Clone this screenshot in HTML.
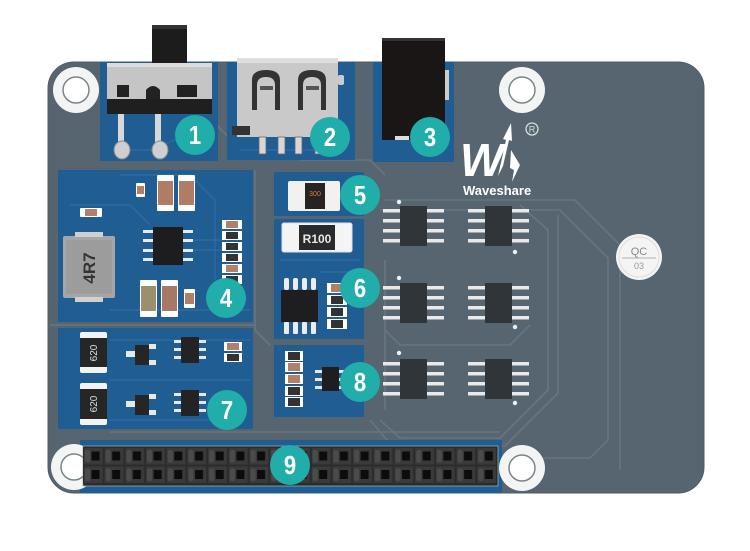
<!DOCTYPE html>
<html><head><meta charset="utf-8">
<style>
html,body{margin:0;padding:0;background:#fff;}
svg{display:block;}
.n{font-family:"Liberation Sans",sans-serif;font-weight:bold;fill:#fff;text-anchor:middle;}
</style></head><body>
<svg width="750" height="551" viewBox="0 0 750 551" xmlns="http://www.w3.org/2000/svg">
<defs>
<pattern id="hdr" patternUnits="userSpaceOnUse" x="83" y="447" width="20.7" height="18.5">
<rect x="0" y="0" width="20.7" height="18.5" fill="#2c2c2c"/>
<rect x="1" y="1" width="18.7" height="16.5" fill="#3a3a3a"/>
<rect x="2" y="3" width="5" height="12.5" rx="2" fill="#4b4b4b"/>
<rect x="8.5" y="4.5" width="8" height="9" fill="#0c0c0c"/>
</pattern>
</defs>
<rect width="750" height="551" fill="#fff"/>
<!-- board -->
<rect x="48" y="62" width="656" height="431" rx="26" fill="#56656f"/>
<rect x="48" y="62" width="656" height="431" rx="26" fill="none" stroke="#4e5d67" stroke-width="1"/>

<!-- gray area traces -->
<g fill="none" stroke="#67767f" stroke-width="1.6">
<polyline points="385,200 575,200 620,245 620,470"/>
<polyline points="380,210 560,210 608,258 608,440 590,458 505,458"/>
<polyline points="380,420 400,438 500,438 548,390 548,230 520,205"/>
<polyline points="370,420 392,446 505,446 558,393 558,215"/>
<polyline points="385,330 400,345 510,345 530,325"/>
<polyline points="385,260 385,410"/>
<polyline points="255,170 255,330 270,345"/>
<polyline points="50,325 255,325"/>
<polyline points="260,120 300,160 370,160 385,175"/>
<polyline points="212,120 250,160"/>
<polyline points="110,432 500,432"/>
</g>

<!-- blue panels -->
<g fill="#1f5d92">
<rect x="100" y="62" width="118" height="99"/>
<rect x="227" y="62" width="128" height="98"/>
<rect x="373" y="62" width="81" height="100"/>
<rect x="58" y="170" width="195" height="152"/>
<rect x="274" y="172" width="90" height="44"/>
<rect x="274" y="219" width="90" height="120"/>
<rect x="58" y="328" width="195" height="101"/>
<rect x="274" y="345" width="90" height="72"/>
<rect x="80" y="440" width="422" height="53"/>
</g>
<!-- blue traces -->
<g fill="none" stroke="#2c6ca3" stroke-width="1.4">
<polyline points="120,175 190,175 215,200 215,280"/>
<polyline points="70,205 130,205 150,225"/>
<polyline points="190,240 222,240"/>
<polyline points="190,250 222,250"/>
<polyline points="110,310 250,310"/>
<polyline points="110,340 250,340"/>
<polyline points="110,380 250,380"/>
<polyline points="110,420 210,420"/>
<polyline points="280,260 360,260"/>
<polyline points="320,272 355,272"/>
<polyline points="115,150 150,150 175,140"/>
<polyline points="240,150 330,150"/>
</g>

<!-- mounting holes -->
<g>
<circle cx="76" cy="90" r="23" fill="#f3f4f4"/>
<circle cx="76" cy="90" r="13" fill="#fff" stroke="#7b8489" stroke-width="1.5"/>
<circle cx="522" cy="90" r="23" fill="#f3f4f4"/>
<circle cx="522" cy="90" r="13" fill="#fff" stroke="#7b8489" stroke-width="1.5"/>
<circle cx="522" cy="468" r="23" fill="#f3f4f4"/>
<circle cx="522" cy="468" r="13" fill="#fff" stroke="#7b8489" stroke-width="1.5"/>
<circle cx="74" cy="467" r="23" fill="#f3f4f4"/>
<circle cx="74" cy="467" r="13" fill="#fff" stroke="#7b8489" stroke-width="1.5"/>
</g>

<!-- switch -->
<rect x="152" y="25" width="35" height="40" fill="#1c1c1c"/>
<rect x="152" y="25" width="35" height="4" fill="#333"/>
<rect x="107" y="63" width="105" height="38" fill="#c5c5c5"/>
<rect x="107" y="63" width="105" height="4" fill="#dcdcdc"/>
<rect x="107" y="99" width="105" height="15" fill="#1f1f1f"/>
<rect x="117" y="85" width="12" height="12" fill="#222"/>
<rect x="177" y="85" width="20" height="12" fill="#222"/>
<path d="M146,99 L146,90 Q153,82 160,90 L160,99 Z" fill="#222"/>
<rect x="118" y="114" width="6" height="30" fill="#d8d8d8"/>
<rect x="155" y="114" width="6" height="30" fill="#d8d8d8"/>
<ellipse cx="122" cy="150" rx="8" ry="9" fill="#cfcfcf" stroke="#888" stroke-width="1"/>
<ellipse cx="160" cy="150" rx="8" ry="9" fill="#cfcfcf" stroke="#888" stroke-width="1"/>

<!-- USB -->
<rect x="237" y="58" width="101" height="79" fill="#c9c9c9"/>
<rect x="237" y="58" width="101" height="5" fill="#dedede"/>
<rect x="232" y="126" width="18" height="9" fill="#333"/>
<path d="M252,110 L252,80 Q252,70 266,70 Q280,70 280,80 L280,110 L275,110 L275,85 Q275,77 266,77 Q257,77 257,85 L257,110 Z" fill="#333"/>
<path d="M298,110 L298,80 Q298,70 312,70 Q326,70 326,80 L326,110 L321,110 L321,85 Q321,77 312,77 Q303,77 303,85 L303,110 Z" fill="#333"/>
<rect x="260" y="86" width="13" height="4" fill="#555"/>
<rect x="306" y="86" width="13" height="4" fill="#555"/>
<g fill="#d7d7d7" stroke="#666" stroke-width="0.8">
<rect x="259" y="137" width="7" height="17"/>
<rect x="278" y="137" width="7" height="17"/>
<rect x="295" y="137" width="7" height="17"/>
<rect x="315" y="137" width="7" height="17"/>
</g>
<rect x="338" y="75" width="6" height="10" rx="2" fill="#ccc"/>

<!-- DC jack -->
<rect x="382" y="38" width="63" height="102" fill="#1a1616"/>
<rect x="382" y="38" width="63" height="3" fill="#333"/>
<rect x="445" y="70" width="4" height="30" fill="#ccc"/>
<rect x="395" y="136" width="14" height="4" fill="#ddd"/>

<!-- Logo -->
<text x="460" y="176" font-family="Liberation Sans,sans-serif" font-weight="bold" font-style="italic" font-size="46" fill="#fff" letter-spacing="-4">W</text>
<path d="M498,176 L506,140 L503,139 L511,123 L512,141 L509,140 L503,166 Z" fill="#fff"/>
<path d="M511,150 L520,165 L512,182 L514,170 L510,168 Z" fill="#fff"/>
<circle cx="532" cy="129" r="6" fill="none" stroke="#d8dde0" stroke-width="1.3"/>
<text x="532" y="132.5" font-family="Liberation Sans,sans-serif" font-size="9" fill="#d8dde0" text-anchor="middle">R</text>
<text x="463" y="195" font-family="Liberation Sans,sans-serif" font-weight="bold" font-size="13" fill="#fff">Waveshare</text>

<!-- Panel 4 components -->
<g>
<rect x="136" y="183" width="9" height="14" rx="1" fill="#fff"/><rect x="137" y="186" width="7" height="8" fill="#b08068"/>
<rect x="157" y="175" width="17" height="36" rx="1" fill="#fff"/><rect x="158" y="181" width="15" height="24" fill="#b07c66"/>
<rect x="178" y="175" width="17" height="36" rx="1" fill="#fff"/><rect x="179" y="181" width="15" height="24" fill="#b07c66"/>
<rect x="80" y="208" width="22" height="9" rx="1" fill="#fff"/><rect x="85" y="209" width="12" height="7" fill="#b08068"/>
<rect x="153" y="227" width="30" height="38" fill="#1d1d1f"/>
<g fill="#e8e8e8">
<rect x="143" y="230" width="10" height="3"/><rect x="143" y="239" width="10" height="3"/><rect x="143" y="249" width="10" height="3"/><rect x="143" y="258" width="10" height="3"/>
<rect x="183" y="230" width="10" height="3"/><rect x="183" y="239" width="10" height="3"/><rect x="183" y="249" width="10" height="3"/><rect x="183" y="258" width="10" height="3"/>
</g>
<g>
<rect x="222" y="220" width="20" height="9" fill="#fff"/><rect x="226" y="221" width="12" height="7" fill="#b08068"/>
<rect x="222" y="231" width="20" height="9" fill="#fff"/><rect x="226" y="232" width="12" height="7" fill="#333"/>
<rect x="222" y="242" width="20" height="9" fill="#fff"/><rect x="226" y="243" width="12" height="7" fill="#333"/>
<rect x="222" y="253" width="20" height="9" fill="#fff"/><rect x="226" y="254" width="12" height="7" fill="#333"/>
<rect x="222" y="264" width="20" height="9" fill="#fff"/><rect x="226" y="265" width="12" height="7" fill="#b08068"/>
<rect x="222" y="275" width="20" height="9" fill="#fff"/><rect x="226" y="276" width="12" height="7" fill="#333"/>
</g>
<rect x="63" y="236" width="52" height="62" rx="2" fill="#a6a6a6"/>
<rect x="66" y="240" width="46" height="54" fill="#9c9c9c"/>
<rect x="75" y="232" width="28" height="5" fill="#d0d0d0"/>
<rect x="75" y="297" width="28" height="5" fill="#d0d0d0"/>
<text transform="translate(95,268) rotate(-90)" font-family="Liberation Sans,sans-serif" font-weight="bold" font-size="17" fill="#333" text-anchor="middle">4R7</text>
<rect x="140" y="280" width="17" height="37" rx="1" fill="#fff"/><rect x="141" y="286" width="15" height="25" fill="#9c8f6e"/>
<rect x="161" y="280" width="17" height="37" rx="1" fill="#fff"/><rect x="162" y="286" width="15" height="25" fill="#a87866"/>
<rect x="184" y="289" width="11" height="19" rx="1" fill="#fff"/><rect x="185" y="293" width="9" height="11" fill="#b08068"/>
</g>

<!-- Panel 5 -->
<rect x="288" y="181" width="52" height="30" rx="2" fill="#f1f1f1"/>
<rect x="305" y="183" width="20" height="26" fill="#262322"/>
<text x="315" y="196" font-family="Liberation Sans,sans-serif" font-size="7" fill="#e07a40" text-anchor="middle">300</text>
<!-- Panel 6 -->
<rect x="282" y="223" width="70" height="29" rx="2" fill="#f4f4f4" stroke="#dde" stroke-width="1"/>
<rect x="299" y="225" width="36" height="25" fill="#2a2a2c"/>
<text x="317" y="243" font-family="Liberation Sans,sans-serif" font-size="12" font-weight="bold" fill="#e8e8e8" text-anchor="middle">R100</text>
<rect x="281" y="290" width="37" height="32" fill="#1e1e20"/>
<g fill="#ececec">
<rect x="284" y="278" width="5" height="12" rx="2"/><rect x="293" y="278" width="5" height="12" rx="2"/><rect x="302" y="278" width="5" height="12" rx="2"/><rect x="311" y="278" width="5" height="12" rx="2"/>
<rect x="284" y="322" width="5" height="12" rx="1"/><rect x="293" y="322" width="5" height="12" rx="1"/><rect x="302" y="322" width="5" height="12" rx="1"/><rect x="311" y="322" width="5" height="12" rx="1"/>
</g>
<g>
<rect x="327" y="283" width="20" height="10" fill="#fff"/><rect x="331" y="284" width="12" height="8" fill="#b08068"/>
<rect x="327" y="295" width="20" height="10" fill="#fff"/><rect x="331" y="296" width="12" height="8" fill="#333"/>
<rect x="327" y="307" width="20" height="10" fill="#fff"/><rect x="331" y="308" width="12" height="8" fill="#333"/>
<rect x="327" y="319" width="20" height="10" fill="#fff"/><rect x="331" y="320" width="12" height="8" fill="#333"/>
</g>

<!-- Panel 8 -->
<g>
<rect x="285" y="351" width="18" height="10" fill="#fff"/><rect x="288" y="352" width="12" height="8" fill="#333"/>
<rect x="285" y="362" width="18" height="10" fill="#fff"/><rect x="288" y="363" width="12" height="8" fill="#b08068"/>
<rect x="285" y="374" width="18" height="10" fill="#fff"/><rect x="288" y="375" width="12" height="8" fill="#b08068"/>
<rect x="285" y="386" width="18" height="10" fill="#fff"/><rect x="288" y="387" width="12" height="8" fill="#333"/>
<rect x="285" y="397" width="18" height="10" fill="#fff"/><rect x="288" y="398" width="12" height="8" fill="#333"/>
</g>
<rect x="322" y="367" width="17" height="24" fill="#1e1e20"/>
<g fill="#e6e6e6">
<rect x="315" y="370" width="7" height="3"/><rect x="315" y="378" width="7" height="3"/><rect x="315" y="386" width="7" height="3"/>
<rect x="339" y="370" width="7" height="3"/><rect x="339" y="378" width="7" height="3"/><rect x="339" y="386" width="7" height="3"/>
</g>

<!-- Panel 7 -->
<g>
<rect x="80" y="332" width="27" height="41" rx="2" fill="#f3f3f3"/><rect x="80" y="338" width="27" height="29" fill="#262626"/>
<text transform="translate(97,353) rotate(-90)" font-family="Liberation Sans,sans-serif" font-size="10" fill="#ddd" text-anchor="middle">620</text>
<rect x="80" y="383" width="27" height="42" rx="2" fill="#f3f3f3"/><rect x="80" y="389" width="27" height="30" fill="#262626"/>
<text transform="translate(97,404) rotate(-90)" font-family="Liberation Sans,sans-serif" font-size="10" fill="#ddd" text-anchor="middle">620</text>
<rect x="135" y="345" width="14" height="20" fill="#262626"/><rect x="126" y="351" width="9" height="6" fill="#e8e8e8"/><rect x="149" y="344" width="7" height="5" fill="#e8e8e8"/><rect x="149" y="360" width="7" height="5" fill="#e8e8e8"/>
<rect x="135" y="395" width="14" height="20" fill="#262626"/><rect x="126" y="401" width="9" height="6" fill="#e8e8e8"/><rect x="149" y="394" width="7" height="5" fill="#e8e8e8"/><rect x="149" y="410" width="7" height="5" fill="#e8e8e8"/>
<rect x="181" y="337" width="18" height="26" fill="#232325"/>
<rect x="174" y="340" width="7" height="3" fill="#e6e6e6"/><rect x="174" y="348" width="7" height="3" fill="#e6e6e6"/><rect x="174" y="356" width="7" height="3" fill="#e6e6e6"/>
<rect x="199" y="340" width="7" height="3" fill="#e6e6e6"/><rect x="199" y="348" width="7" height="3" fill="#e6e6e6"/><rect x="199" y="356" width="7" height="3" fill="#e6e6e6"/>
<rect x="181" y="390" width="18" height="26" fill="#232325"/>
<rect x="174" y="393" width="7" height="3" fill="#e6e6e6"/><rect x="174" y="401" width="7" height="3" fill="#e6e6e6"/><rect x="174" y="409" width="7" height="3" fill="#e6e6e6"/>
<rect x="199" y="393" width="7" height="3" fill="#e6e6e6"/><rect x="199" y="401" width="7" height="3" fill="#e6e6e6"/><rect x="199" y="409" width="7" height="3" fill="#e6e6e6"/>
<rect x="224" y="342" width="18" height="9" fill="#fff"/><rect x="227" y="343" width="12" height="7" fill="#b08068"/>
<rect x="224" y="353" width="18" height="9" fill="#fff"/><rect x="227" y="354" width="12" height="7" fill="#333"/>
</g>

<!-- Six SOIC-8 in gray area -->
<g>
<g fill="#e9e9e9">
<rect x="383" y="209" width="17" height="3.5"/><rect x="383" y="219" width="17" height="3.5"/><rect x="383" y="229" width="17" height="3.5"/><rect x="383" y="239" width="17" height="3.5"/>
<rect x="427" y="209" width="17" height="3.5"/><rect x="427" y="219" width="17" height="3.5"/><rect x="427" y="229" width="17" height="3.5"/><rect x="427" y="239" width="17" height="3.5"/>
<rect x="468" y="209" width="17" height="3.5"/><rect x="468" y="219" width="17" height="3.5"/><rect x="468" y="229" width="17" height="3.5"/><rect x="468" y="239" width="17" height="3.5"/>
<rect x="512" y="209" width="17" height="3.5"/><rect x="512" y="219" width="17" height="3.5"/><rect x="512" y="229" width="17" height="3.5"/><rect x="512" y="239" width="17" height="3.5"/>
<rect x="383" y="286" width="17" height="3.5"/><rect x="383" y="296" width="17" height="3.5"/><rect x="383" y="306" width="17" height="3.5"/><rect x="383" y="316" width="17" height="3.5"/>
<rect x="427" y="286" width="17" height="3.5"/><rect x="427" y="296" width="17" height="3.5"/><rect x="427" y="306" width="17" height="3.5"/><rect x="427" y="316" width="17" height="3.5"/>
<rect x="468" y="286" width="17" height="3.5"/><rect x="468" y="296" width="17" height="3.5"/><rect x="468" y="306" width="17" height="3.5"/><rect x="468" y="316" width="17" height="3.5"/>
<rect x="512" y="286" width="17" height="3.5"/><rect x="512" y="296" width="17" height="3.5"/><rect x="512" y="306" width="17" height="3.5"/><rect x="512" y="316" width="17" height="3.5"/>
<rect x="383" y="362" width="17" height="3.5"/><rect x="383" y="372" width="17" height="3.5"/><rect x="383" y="382" width="17" height="3.5"/><rect x="383" y="392" width="17" height="3.5"/>
<rect x="427" y="362" width="17" height="3.5"/><rect x="427" y="372" width="17" height="3.5"/><rect x="427" y="382" width="17" height="3.5"/><rect x="427" y="392" width="17" height="3.5"/>
<rect x="468" y="362" width="17" height="3.5"/><rect x="468" y="372" width="17" height="3.5"/><rect x="468" y="382" width="17" height="3.5"/><rect x="468" y="392" width="17" height="3.5"/>
<rect x="512" y="362" width="17" height="3.5"/><rect x="512" y="372" width="17" height="3.5"/><rect x="512" y="382" width="17" height="3.5"/><rect x="512" y="392" width="17" height="3.5"/>
</g>
<g fill="#2f3538">
<rect x="400" y="206" width="27" height="40"/><rect x="485" y="206" width="27" height="40"/>
<rect x="400" y="283" width="27" height="40"/><rect x="485" y="283" width="27" height="40"/>
<rect x="400" y="359" width="27" height="40"/><rect x="485" y="359" width="27" height="40"/>
</g>
<g fill="#f0f0f0">
<circle cx="399" cy="202" r="2.2"/><circle cx="515" cy="252" r="2.2"/>
<circle cx="399" cy="278" r="2.2"/><circle cx="515" cy="327" r="2.2"/>
<circle cx="399" cy="353" r="2.2"/><circle cx="515" cy="403" r="2.2"/>
</g>
</g>

<!-- QC sticker -->
<circle cx="639" cy="257" r="23" fill="#f4f4f4"/>
<circle cx="639" cy="257" r="20" fill="none" stroke="#ddd" stroke-width="1"/>
<line x1="622" y1="258" x2="656" y2="258" stroke="#999" stroke-width="0.8"/>
<text x="639" y="255" font-family="Liberation Sans,sans-serif" font-size="11" fill="#888" text-anchor="middle">QC</text>
<text x="639" y="269" font-family="Liberation Sans,sans-serif" font-size="9" fill="#999" text-anchor="middle">03</text>

<!-- header -->
<rect x="83" y="446" width="415" height="40" fill="#2a2a2a" stroke="#9aa" stroke-width="0.8"/>
<rect x="83" y="447" width="414" height="37" fill="url(#hdr)"/>

<!-- badges -->
<g fill="#21aeab">
<circle cx="195" cy="135" r="20"/>
<circle cx="330" cy="137" r="20"/>
<circle cx="430" cy="137" r="20"/>
<circle cx="226" cy="298" r="20"/>
<circle cx="360" cy="195" r="20"/>
<circle cx="360" cy="288" r="20"/>
<circle cx="227" cy="410" r="20"/>
<circle cx="360" cy="382" r="20"/>
<circle cx="290" cy="465" r="20"/>
</g>
<g class="n" font-size="26">
<text x="195" y="144" transform="translate(195,0) scale(0.85,1) translate(-195,0)">1</text>
<text x="330" y="146" transform="translate(330,0) scale(0.85,1) translate(-330,0)">2</text>
<text x="430" y="146" transform="translate(430,0) scale(0.85,1) translate(-430,0)">3</text>
<text x="226" y="307" transform="translate(226,0) scale(0.85,1) translate(-226,0)">4</text>
<text x="360" y="204" transform="translate(360,0) scale(0.85,1) translate(-360,0)">5</text>
<text x="360" y="297" transform="translate(360,0) scale(0.85,1) translate(-360,0)">6</text>
<text x="227" y="419" transform="translate(227,0) scale(0.85,1) translate(-227,0)">7</text>
<text x="360" y="391" transform="translate(360,0) scale(0.85,1) translate(-360,0)">8</text>
<text x="290" y="474" transform="translate(290,0) scale(0.85,1) translate(-290,0)">9</text>
</g>
</svg>
</body></html>
